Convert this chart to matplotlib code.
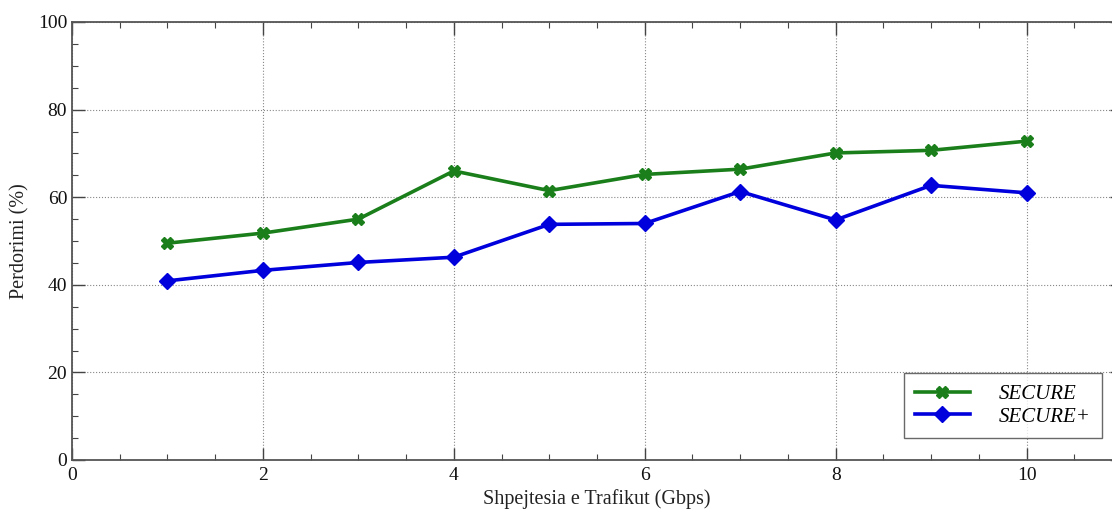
import matplotlib
matplotlib.use("Agg")
import matplotlib.pyplot as plt
from matplotlib.ticker import MultipleLocator

speed = [1, 2, 3, 4, 5, 6, 7, 8, 9, 10]
secure = [49.5, 51.8, 55.0, 66.0, 61.5, 65.2, 66.4, 70.1, 70.7, 72.8]
secure_plus = [40.9, 43.3, 45.1, 46.3, 53.8, 54.0, 61.3, 54.8, 62.7, 61.0]

plt.rcParams["font.family"] = ["Liberation Serif", "DejaVu Serif"]

W, H = 1112, 515
fig = plt.figure(figsize=(W / 100, H / 100), dpi=100)
ax = fig.add_axes([72 / W, 1 - 460 / H, 1050 / W, 438 / H])

ax.plot(speed, secure, color="#1a7f1a", lw=2.6, marker="X", ms=9,
        label="SECURE", zorder=3)
ax.plot(speed, secure_plus, color="#0000dd", lw=2.6, marker="D", ms=8,
        label="SECURE+", zorder=3)

ax.set_xlim(0, 11)
ax.set_ylim(0, 100)
ax.xaxis.set_major_locator(MultipleLocator(2))
ax.xaxis.set_minor_locator(MultipleLocator(0.5))
ax.yaxis.set_major_locator(MultipleLocator(20))
ax.yaxis.set_minor_locator(MultipleLocator(5))
ax.tick_params(which="both", direction="in", top=True, right=True,
               colors="#444444", labelcolor="#111111", labelsize=14)
ax.tick_params(which="major", length=9, width=1)
ax.tick_params(which="minor", length=4.5, width=0.8)
ax.tick_params(axis="x", pad=5)
for s in ax.spines.values():
    s.set_color("#555555")
    s.set_linewidth(1.3)

ax.grid(True, which="major", linestyle=":", color="#888888", lw=0.8)

ax.set_xlabel("Shpejtesia e Trafikut (Gbps)", fontsize=14.5, color="#222222",
              labelpad=4)
ax.set_ylabel("Perdorimi (%)", fontsize=14.5, color="#222222", labelpad=6)

leg = ax.legend(loc="lower right", bbox_to_anchor=(1030 / 1050, 22 / 438),
                frameon=True, fancybox=False,
                prop={"style": "italic", "size": 15}, handlelength=2.6,
                borderpad=0.55, labelspacing=0.15, handletextpad=1.4,
                borderaxespad=0)
leg.get_frame().set_edgecolor("#444444")
leg.get_frame().set_linewidth(1.0)

fig.savefig("out.png", dpi=100)
